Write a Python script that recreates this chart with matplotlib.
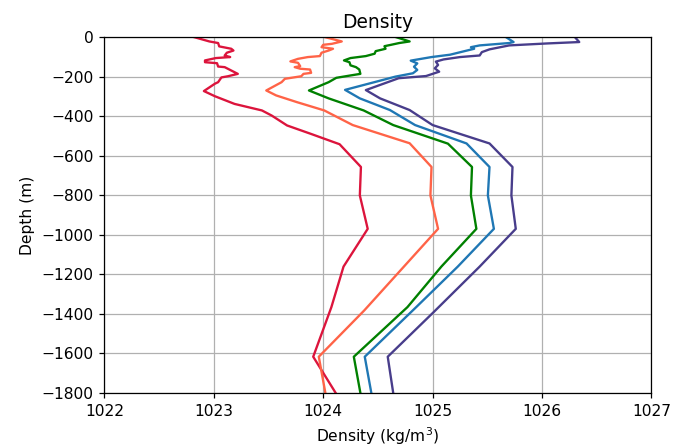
import numpy as np
import matplotlib
matplotlib.use("Agg")
import matplotlib.pyplot as plt


#%% Profiles: density (kg/m3) against depth (m), one per station
depth_1 = [0, -22, -30, -47, -59, -68, -79, -93, -101, -106, -118, -127, -132, -149,
           -152, -169, -186, -198, -204, -228, -236, -273, -299, -338, -371, -397,
           -447, -490, -542, -657, -801, -970, -1161, -1366, -1617, -1800]
dens_1 = [1022.82, 1022.96, 1023.04, 1023.05, 1023.16, 1023.18, 1023.12, 1023.10,
          1023.15, 1023.02, 1022.92, 1022.92, 1023.03, 1023.04, 1023.10, 1023.16,
          1023.22, 1023.13, 1023.07, 1023.04, 1023.01, 1022.91, 1023.01, 1023.19,
          1023.44, 1023.53, 1023.67, 1023.89, 1024.15, 1024.345, 1024.335, 1024.407,
          1024.186, 1024.075, 1023.909, 1024.114]

depth_2 = [0, -22, -34, -39, -51, -59, -68, -79, -96, -101, -110, -123, -130, -147,
           -152, -160, -164, -181, -186, -198, -211, -228, -270, -295, -329, -371,
           -445, -537, -657, -801, -970, -1383, -1617, -1800]
dens_2 = [1024.015, 1024.17, 1024.08, 1024.0, 1023.985, 1024.09, 1024.05, 1023.985,
          1023.97, 1023.86, 1023.77, 1023.70, 1023.77, 1023.79, 1023.74, 1023.79,
          1023.88, 1023.89, 1023.82, 1023.80, 1023.65, 1023.62, 1023.48, 1023.57,
          1023.76, 1024.01, 1024.27, 1024.79, 1024.99, 1024.98, 1025.05, 1024.375,
          1023.96, 1024.02]

depth_3 = [0, -22, -30, -39, -46, -59, -71, -84, -96, -106, -118, -127, -143, -152,
           -164, -186, -194, -206, -228, -270, -310, -371, -445, -539, -657, -801,
           -970, -1161, -1366, -1617, -1800]
dens_3 = [1024.665, 1024.79, 1024.695, 1024.62, 1024.56, 1024.57, 1024.48, 1024.47,
          1024.39, 1024.25, 1024.19, 1024.24, 1024.25, 1024.30, 1024.33, 1024.34,
          1024.25, 1024.12, 1024.05, 1023.87, 1024.05, 1024.37, 1024.64, 1025.14,
          1025.36, 1025.35, 1025.40, 1025.08, 1024.77, 1024.28, 1024.34]

depth_4 = [0, -25, -30, -42, -51, -59, -89, -101, -119, -133, -150, -166, -183,
           -200, -267, -310, -369, -445, -538, -657, -801, -970, -1161, -1366,
           -1617, -1800]
dens_4 = [1025.67, 1025.74, 1025.70, 1025.43, 1025.35, 1025.38, 1025.16, 1024.99,
          1024.80, 1024.86, 1024.83, 1024.86, 1024.82, 1024.66, 1024.20, 1024.335,
          1024.61, 1024.84, 1025.31, 1025.52, 1025.505, 1025.56, 1025.23, 1024.85,
          1024.38, 1024.44]

depth_5 = [0, -25, -32, -42, -62, -76, -93, -101, -113, -124, -141, -158, -175,
           -197, -208, -268, -310, -369, -445, -538, -657, -801, -970, -1161, -1391,
           -1617, -1800]
dens_5 = [1026.30, 1026.34, 1026.05, 1025.70, 1025.52, 1025.45, 1025.43, 1025.25,
          1025.10, 1025.03, 1025.05, 1025.02, 1025.06, 1024.94, 1024.69, 1024.39,
          1024.52, 1024.79, 1025.00, 1025.52, 1025.73, 1025.72, 1025.76, 1025.43,
          1025.01, 1024.59, 1024.64]

profiles = [(dens_1, depth_1, 'crimson'),
            (dens_2, depth_2, 'tomato'),
            (dens_3, depth_3, 'green'),
            (dens_4, depth_4, 'tab:blue'),
            (dens_5, depth_5, 'darkslateblue')]

#%% Plot
DPI = 112
fig = plt.figure(figsize=(673 / DPI, 447 / DPI), dpi=DPI)
ax = fig.add_subplot(111)
fig.subplots_adjust(left=0.155, right=0.968, top=0.917, bottom=0.121)

for dens, depth, col in profiles:
    ax.plot(np.array(dens), np.array(depth), color=col, lw=1.5)

ax.set_xlim(1022, 1027)
ax.set_ylim(-1800, 0)
ax.set_xticks(np.arange(1022, 1028, 1))
ax.set_yticks(np.arange(-1800, 1, 200))
ax.grid(True)
ax.set_title('Density')
ax.set_xlabel('Density (kg/m$^3$)')
ax.set_ylabel('Depth (m)')

fig.savefig('out.png', dpi=DPI)
